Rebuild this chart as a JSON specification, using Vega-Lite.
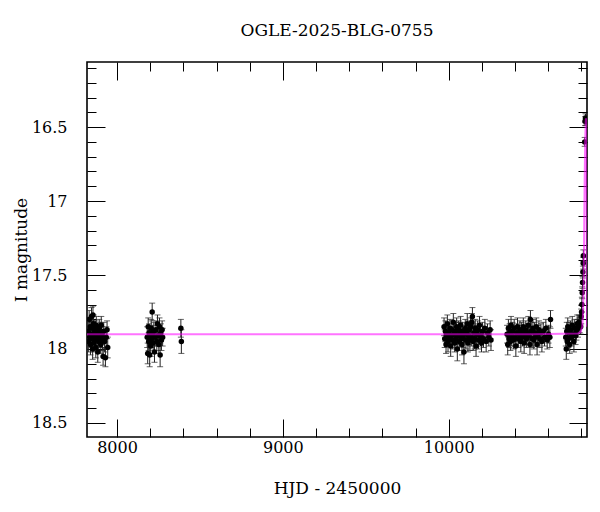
{
"$schema": "https://vega.github.io/schema/vega-lite/v6.json",
"width": 500, "height": 375,
"autosize": {"type": "none"},
"padding": {"left": 87, "top": 62, "right": 13, "bottom": 75},
"background": "white",
"title": {"text": "OGLE-2025-BLG-0755", "font": "DejaVu Serif", "fontSize": 17, "fontWeight": "normal", "offset": 20, "anchor": "middle", "color": "black"},
"config": {
  "view": {"stroke": "black", "strokeWidth": 1.6},
  "axis": {"domain": false, "grid": false, "tickColor": "black", "tickWidth": 1, "labelFont": "DejaVu Serif", "titleFont": "DejaVu Serif", "labelFontSize": 16, "titleFontSize": 17, "titleFontWeight": "normal", "labelColor": "black", "titleColor": "black", "labelOverlap": false, "labelFlush": false}
},
"datasets": {
"obs": [
{"t":7826,"m":17.88,"e":0.06},{"t":7829,"m":17.95,"e":0.07},{"t":7832,"m":17.80,"e":0.06},{"t":7835,"m":17.92,"e":0.06},{"t":7838,"m":17.85,"e":0.05},{"t":7840,"m":17.97,"e":0.07},{"t":7843,"m":17.90,"e":0.06},{"t":7846,"m":17.78,"e":0.06},{"t":7848,"m":17.93,"e":0.06},{"t":7851,"m":17.86,"e":0.05},{"t":7853,"m":18.00,"e":0.07},{"t":7855,"m":17.77,"e":0.06},{"t":7856,"m":17.91,"e":0.06},{"t":7859,"m":17.83,"e":0.06},{"t":7861,"m":17.96,"e":0.06},{"t":7864,"m":17.89,"e":0.05},{"t":7867,"m":17.94,"e":0.06},{"t":7870,"m":17.87,"e":0.06},{"t":7872,"m":17.99,"e":0.07},{"t":7875,"m":17.84,"e":0.06},{"t":7878,"m":17.92,"e":0.06},{"t":7881,"m":17.88,"e":0.05},{"t":7884,"m":18.02,"e":0.07},{"t":7887,"m":17.90,"e":0.06},{"t":7890,"m":17.95,"e":0.06},{"t":7893,"m":17.86,"e":0.06},{"t":7896,"m":17.93,"e":0.06},{"t":7899,"m":17.89,"e":0.07},{"t":7902,"m":17.97,"e":0.06},{"t":7905,"m":17.84,"e":0.06},{"t":7908,"m":17.91,"e":0.06},{"t":7912,"m":17.94,"e":0.07},{"t":7916,"m":18.05,"e":0.06},{"t":7920,"m":17.88,"e":0.06},{"t":7925,"m":17.95,"e":0.07},{"t":7930,"m":18.06,"e":0.06},{"t":7935,"m":17.92,"e":0.07},{"t":7940,"m":17.87,"e":0.06},{"t":7944,"m":17.99,"e":0.07},
{"t":8182,"m":17.92,"e":0.07},{"t":8185,"m":18.03,"e":0.07},{"t":8188,"m":17.85,"e":0.06},{"t":8191,"m":17.95,"e":0.06},{"t":8194,"m":17.89,"e":0.06},{"t":8197,"m":18.04,"e":0.08},{"t":8200,"m":17.91,"e":0.06},{"t":8203,"m":17.98,"e":0.07},{"t":8206,"m":17.86,"e":0.06},{"t":8209,"m":17.93,"e":0.06},{"t":8212,"m":17.75,"e":0.06},{"t":8215,"m":17.90,"e":0.06},{"t":8218,"m":17.96,"e":0.07},{"t":8222,"m":17.88,"e":0.06},{"t":8226,"m":18.02,"e":0.07},{"t":8230,"m":17.92,"e":0.06},{"t":8235,"m":17.87,"e":0.06},{"t":8240,"m":17.95,"e":0.06},{"t":8244,"m":17.83,"e":0.06},{"t":8248,"m":17.91,"e":0.07},{"t":8252,"m":17.97,"e":0.06},{"t":8256,"m":17.85,"e":0.06},{"t":8260,"m":18.04,"e":0.08},{"t":8264,"m":17.89,"e":0.06},{"t":8268,"m":17.94,"e":0.07},{"t":8272,"m":17.87,"e":0.06},{"t":8275,"m":17.92,"e":0.06},
{"t":8385,"m":17.86,"e":0.06},{"t":8388,"m":17.95,"e":0.08},
{"t":9972,"m":17.85,"e":0.06},{"t":9976,"m":17.93,"e":0.06},{"t":9980,"m":17.88,"e":0.07},{"t":9984,"m":17.97,"e":0.06},{"t":9988,"m":17.90,"e":0.06},{"t":9992,"m":17.83,"e":0.06},{"t":9996,"m":17.95,"e":0.07},{"t":10000,"m":17.89,"e":0.06},{"t":10004,"m":17.92,"e":0.06},{"t":10008,"m":17.86,"e":0.06},{"t":10012,"m":17.98,"e":0.07},{"t":10016,"m":17.91,"e":0.06},{"t":10020,"m":17.87,"e":0.06},{"t":10024,"m":17.94,"e":0.06},{"t":10028,"m":17.82,"e":0.06},{"t":10032,"m":17.90,"e":0.07},{"t":10036,"m":17.96,"e":0.06},{"t":10040,"m":17.88,"e":0.06},{"t":10044,"m":17.93,"e":0.06},{"t":10048,"m":17.85,"e":0.06},{"t":10052,"m":18.00,"e":0.08},{"t":10056,"m":17.91,"e":0.06},{"t":10060,"m":17.87,"e":0.06},{"t":10064,"m":17.95,"e":0.06},{"t":10068,"m":17.89,"e":0.07},{"t":10072,"m":17.84,"e":0.06},{"t":10076,"m":17.92,"e":0.06},{"t":10080,"m":17.97,"e":0.07},{"t":10084,"m":17.88,"e":0.06},{"t":10088,"m":17.93,"e":0.06},{"t":10092,"m":18.02,"e":0.08},{"t":10096,"m":17.90,"e":0.06},{"t":10100,"m":17.86,"e":0.06},{"t":10104,"m":17.94,"e":0.06},{"t":10108,"m":17.89,"e":0.06},{"t":10112,"m":17.83,"e":0.07},{"t":10116,"m":17.96,"e":0.06},{"t":10120,"m":17.91,"e":0.06},{"t":10124,"m":17.87,"e":0.06},{"t":10128,"m":17.94,"e":0.07},{"t":10132,"m":17.85,"e":0.06},{"t":10136,"m":17.92,"e":0.06},{"t":10140,"m":17.82,"e":0.06},{"t":10143,"m":17.78,"e":0.06},{"t":10148,"m":17.95,"e":0.06},{"t":10152,"m":17.89,"e":0.06},{"t":10156,"m":17.93,"e":0.07},{"t":10160,"m":17.86,"e":0.06},{"t":10165,"m":17.98,"e":0.07},{"t":10170,"m":17.90,"e":0.06},{"t":10175,"m":17.87,"e":0.06},{"t":10180,"m":17.94,"e":0.06},{"t":10186,"m":17.84,"e":0.06},{"t":10192,"m":17.91,"e":0.07},{"t":10198,"m":17.96,"e":0.06},{"t":10204,"m":17.88,"e":0.06},{"t":10210,"m":17.93,"e":0.06},{"t":10218,"m":17.86,"e":0.06},{"t":10226,"m":17.95,"e":0.07},{"t":10234,"m":17.89,"e":0.06},{"t":10242,"m":17.92,"e":0.06},{"t":10250,"m":17.87,"e":0.06},{"t":10255,"m":17.94,"e":0.07},
{"t":10352,"m":17.90,"e":0.06},{"t":10356,"m":17.97,"e":0.07},{"t":10360,"m":17.86,"e":0.06},{"t":10364,"m":17.93,"e":0.06},{"t":10368,"m":17.89,"e":0.06},{"t":10372,"m":17.95,"e":0.06},{"t":10376,"m":17.84,"e":0.06},{"t":10380,"m":17.91,"e":0.07},{"t":10385,"m":17.88,"e":0.06},{"t":10390,"m":17.94,"e":0.06},{"t":10395,"m":17.86,"e":0.06},{"t":10400,"m":17.92,"e":0.06},{"t":10405,"m":17.98,"e":0.07},{"t":10410,"m":17.89,"e":0.06},{"t":10415,"m":17.85,"e":0.06},{"t":10420,"m":17.93,"e":0.06},{"t":10425,"m":17.90,"e":0.06},{"t":10430,"m":17.87,"e":0.06},{"t":10435,"m":17.95,"e":0.07},{"t":10440,"m":17.88,"e":0.06},{"t":10445,"m":17.92,"e":0.06},{"t":10450,"m":17.85,"e":0.06},{"t":10455,"m":17.96,"e":0.07},{"t":10460,"m":17.90,"e":0.06},{"t":10465,"m":17.87,"e":0.06},{"t":10470,"m":17.93,"e":0.06},{"t":10475,"m":17.89,"e":0.06},{"t":10480,"m":17.84,"e":0.06},{"t":10485,"m":17.91,"e":0.06},{"t":10490,"m":17.97,"e":0.07},{"t":10493,"m":17.80,"e":0.06},{"t":10498,"m":17.88,"e":0.06},{"t":10503,"m":17.93,"e":0.06},{"t":10508,"m":17.86,"e":0.06},{"t":10513,"m":17.94,"e":0.06},{"t":10518,"m":17.89,"e":0.07},{"t":10523,"m":17.92,"e":0.06},{"t":10528,"m":17.85,"e":0.06},{"t":10533,"m":17.97,"e":0.07},{"t":10538,"m":17.90,"e":0.06},{"t":10544,"m":17.87,"e":0.06},{"t":10550,"m":17.93,"e":0.06},{"t":10556,"m":17.89,"e":0.06},{"t":10562,"m":17.95,"e":0.07},{"t":10570,"m":17.88,"e":0.06},{"t":10578,"m":17.92,"e":0.06},{"t":10586,"m":17.86,"e":0.06},{"t":10594,"m":17.94,"e":0.06},{"t":10602,"m":17.90,"e":0.06},{"t":10610,"m":17.92,"e":0.07},{"t":10614,"m":17.80,"e":0.06},
{"t":10706,"m":17.92,"e":0.06},{"t":10709,"m":18.00,"e":0.07},{"t":10712,"m":17.88,"e":0.06},{"t":10715,"m":17.95,"e":0.06},{"t":10718,"m":17.85,"e":0.06},{"t":10722,"m":17.93,"e":0.06},{"t":10726,"m":17.89,"e":0.07},{"t":10730,"m":17.97,"e":0.06},{"t":10735,"m":17.87,"e":0.06},{"t":10740,"m":17.92,"e":0.06},{"t":10745,"m":17.84,"e":0.06},{"t":10750,"m":17.90,"e":0.06},{"t":10755,"m":17.95,"e":0.07},{"t":10760,"m":17.86,"e":0.06},{"t":10765,"m":17.91,"e":0.06},{"t":10770,"m":17.88,"e":0.06},{"t":10775,"m":17.83,"e":0.06},{"t":10780,"m":17.86,"e":0.06},{"t":10785,"m":17.82,"e":0.05},{"t":10790,"m":17.84,"e":0.05},
{"t":10796,"m":17.85,"e":0.05},{"t":10799,"m":17.78,"e":0.05},{"t":10801,"m":17.75,"e":0.05},{"t":10803,"m":17.70,"e":0.05},{"t":10805,"m":17.62,"e":0.04},{"t":10807,"m":17.55,"e":0.04},{"t":10809,"m":17.48,"e":0.04},{"t":10811,"m":17.42,"e":0.04},{"t":10812,"m":17.37,"e":0.04},
{"t":10820,"m":16.60,"e":0.03},{"t":10822,"m":16.46,"e":0.03},{"t":10825,"m":16.44,"e":0.03},{"t":10828,"m":16.46,"e":0.03},{"t":10831,"m":16.45,"e":0.03}
],
"model": [
{"t":7819,"m":17.90},{"t":8500,"m":17.90},{"t":9500,"m":17.90},{"t":10500,"m":17.90},{"t":10780,"m":17.895},{"t":10795,"m":17.885},{"t":10805,"m":17.85},{"t":10810,"m":17.77},{"t":10814,"m":17.55},{"t":10817,"m":17.2},{"t":10820,"m":16.85},{"t":10823,"m":16.6},{"t":10826,"m":16.47},{"t":10828,"m":16.44},{"t":10830,"m":16.6},{"t":10832,"m":17.1},{"t":10834,"m":17.85}
]
},
"resolve": {"axis": {"x": "independent", "y": "independent"}},
"layer": [
{
  "data": {"name": "obs"},
  "mark": {"type": "errorbar", "color": "#222222", "ticks": {"size": 6, "color": "#222222"}, "clip": true},
  "encoding": {
    "x": {"field": "t", "type": "quantitative", "scale": {"domain": [7819, 10834], "nice": false, "zero": false},
      "axis": {"orient": "bottom", "values": [8000,8200,8400,8600,8800,9000,9200,9400,9600,9800,10000,10200,10400,10600,10800], "format": "d",
        "tickSize": {"condition": {"test": "datum.value % 1000 === 0", "value": -18}, "value": -9},
        "labelExpr": "datum.value % 1000 === 0 ? datum.label : ''", "labelPadding": 20, "title": "HJD - 2450000", "titlePadding": 16}},
    "y": {"field": "m", "type": "quantitative", "scale": {"domain": [16.06, 18.595], "reverse": true, "nice": false, "zero": false},
      "axis": {"orient": "left", "values": [16.1,16.2,16.3,16.4,16.5,16.6,16.7,16.8,16.9,17,17.1,17.2,17.3,17.4,17.5,17.6,17.7,17.8,17.9,18,18.1,18.2,18.3,18.4,18.5],
        "tickSize": {"condition": {"test": "abs(datum.value*2 - round(datum.value*2)) < 0.01", "value": -18}, "value": -9},
        "labelExpr": "abs(datum.value*2 - round(datum.value*2)) < 0.01 ? format(datum.value, '.1~f') : ''", "labelPadding": 38, "title": "I magnitude", "titlePadding": 1}},
    "yError": {"field": "e"}
  }
},
{
  "data": {"name": "obs"},
  "mark": {"type": "circle", "color": "black", "opacity": 1, "size": 30, "clip": true},
  "encoding": {
    "x": {"field": "t", "type": "quantitative",
      "axis": {"orient": "top", "values": [8000,8200,8400,8600,8800,9000,9200,9400,9600,9800,10000,10200,10400,10600,10800],
        "tickSize": {"condition": {"test": "datum.value % 1000 === 0", "value": -18}, "value": -9},
        "labels": false, "title": null}},
    "y": {"field": "m", "type": "quantitative",
      "axis": {"orient": "right", "values": [16.1,16.2,16.3,16.4,16.5,16.6,16.7,16.8,16.9,17,17.1,17.2,17.3,17.4,17.5,17.6,17.7,17.8,17.9,18,18.1,18.2,18.3,18.4,18.5],
        "tickSize": {"condition": {"test": "abs(datum.value*2 - round(datum.value*2)) < 0.01", "value": -18}, "value": -9},
        "labels": false, "title": null}}
  }
},
{
  "data": {"name": "model"},
  "mark": {"type": "line", "color": "#ff00ff", "strokeWidth": 2, "opacity": 0.55, "clip": true},
  "encoding": {
    "x": {"field": "t", "type": "quantitative", "axis": null},
    "y": {"field": "m", "type": "quantitative", "axis": null}
  }
}
]
}
